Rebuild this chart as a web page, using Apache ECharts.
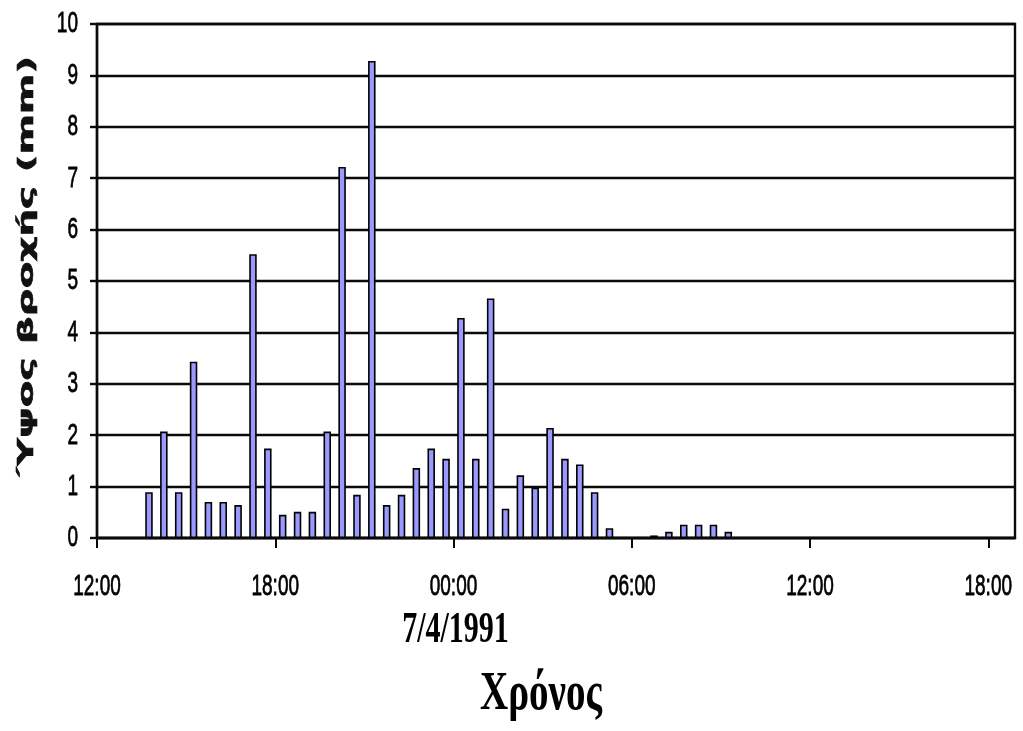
<!DOCTYPE html>
<html>
<head>
<meta charset="utf-8">
<title>Ύψος βροχής 6-7/4/1991</title>
<script src="https://cdn.jsdelivr.net/npm/echarts/dist/echarts.min.js"></script>
<style>
  html, body { margin: 0; padding: 0; background: #fff; }
  #chart { width: 1023px; height: 731px; }
</style>
</head>
<body>
<div id="chart"></div>
<script>
// Half-hourly rainfall depth, 6/4/1991 afternoon to 7/4/1991 morning
const times = [
  '13:45', '14:15', '14:45', '15:15', '15:45', '16:15', '16:45', '17:15', '17:45',
  '18:15', '18:45', '19:15', '19:45', '20:15', '20:45', '21:15', '21:45', '22:15',
  '22:45', '23:15', '23:45', '00:15', '00:45', '01:15', '01:45', '02:15', '02:45',
  '03:15', '03:45', '04:15', '04:45', '05:15', '06:45', '07:15', '07:45', '08:15',
  '08:45', '09:15'
];
const rain = [
  0.89, 2.07, 0.89, 3.43, 0.70, 0.70, 0.64, 5.52, 1.74,
  0.45, 0.51, 0.51, 2.07, 7.22, 0.84, 9.28, 0.64, 0.84,
  1.36, 1.74, 1.54, 4.28, 1.54, 4.66, 0.57, 1.22, 0.98,
  2.14, 1.54, 1.43, 0.89, 0.19, 0.05, 0.12, 0.26, 0.26,
  0.26, 0.12
];
// x axis runs in hours from 12:00 on 6/4
const xTickValues = [0, 6, 12, 18, 24, 30];
const xTickLabels = ['12:00', '18:00', '00:00', '06:00', '12:00', '18:00'];
const yTickLabels = ['0', '1', '2', '3', '4', '5', '6', '7', '8', '9', '10'];
const dateLabel = '7/4/1991';
const xTitle = 'Χρόνος';
const yTitle = 'Ύψος βροχής (mm)';

function hoursFromStart(t) {
  const [h, m] = t.split(':').map(Number);
  let v = h + m / 60 - 12;
  if (v < 0) v += 24;
  return v;
}

const seriesData = times.map((t, i) => [hoursFromStart(t), rain[i]]);

const chart = echarts.init(document.getElementById('chart'), null, { renderer: 'canvas' });

const ink = '#0a0a0a';

chart.setOption({
  animation: false,
  backgroundColor: '#ffffff',
  grid: {
    left: 97, right: 8, top: 24, bottom: 193,
    show: true, borderColor: ink, borderWidth: 2.4, backgroundColor: 'transparent'
  },
  xAxis: {
    type: 'value',
    min: 0, max: 30.9, interval: 6,
    axisLine: { show: true, onZero: false, lineStyle: { color: ink, width: 2.4 } },
    axisTick: { show: true, customValues: xTickValues, length: 10, lineStyle: { color: ink, width: 2 } },
    axisLabel: { show: false },
    splitLine: { show: false }
  },
  yAxis: {
    type: 'value',
    min: 0, max: 10, interval: 1,
    axisLine: { show: true, lineStyle: { color: ink, width: 2.4 } },
    axisTick: { show: true, length: 7, lineStyle: { color: ink, width: 2.4 } },
    axisLabel: { show: false },
    splitLine: { show: true, lineStyle: { color: ink, width: 2.4 } }
  },
  series: [{
    type: 'bar',
    data: seriesData,
    barWidth: 7.5,
    itemStyle: { color: '#9999FF', borderColor: '#000', borderWidth: 1.6 },
    z: 3
  }]
});

// Text drawn as scaled graphic text so the tall, narrow lettering fits the layout
const graphics = [];
const tickFont = '"Liberation Sans", Arial, sans-serif';

xTickValues.forEach((v, i) => {
  const px = chart.convertToPixel({ xAxisIndex: 0 }, v);
  graphics.push({
    type: 'text', x: px, y: 587, scaleY: 1.6, silent: true,
    style: { text: xTickLabels[i], fontFamily: tickFont, fontSize: 19, fill: '#000',
             stroke: '#000', lineWidth: 0.5, align: 'center', verticalAlign: 'middle' }
  });
});

yTickLabels.forEach((lab) => {
  const py = chart.convertToPixel({ yAxisIndex: 0 }, Number(lab));
  graphics.push({
    type: 'text', x: 78, y: py, scaleY: 1.6, silent: true,
    style: { text: lab, fontFamily: tickFont, fontSize: 19, fill: '#000',
             stroke: '#000', lineWidth: 0.5, align: 'right', verticalAlign: 'middle' }
  });
});

const midnight = chart.convertToPixel({ xAxisIndex: 0 }, 12);
graphics.push({
  type: 'text', x: midnight + 2, y: 630, scaleY: 1.5, silent: true,
  style: { text: dateLabel, fontFamily: '"Liberation Serif", "Times New Roman", serif',
           fontWeight: 'bold', fontSize: 30, fill: '#000', align: 'center', verticalAlign: 'middle' }
});

graphics.push({
  type: 'text', x: 541, y: 695, scaleY: 1.42, silent: true,
  style: { text: xTitle, fontFamily: '"Liberation Serif", "Times New Roman", serif',
           fontWeight: 'bold', fontSize: 39, fill: '#000', align: 'center', verticalAlign: 'middle' }
});

graphics.push({
  type: 'text', x: 28, y: 266, rotation: Math.PI / 2, scaleX: 1.85, silent: true,
  style: { text: yTitle, fontFamily: '"DejaVu Sans", Verdana, sans-serif',
           fontWeight: 'bold', fontSize: 21, fill: '#111', stroke: '#111', lineWidth: 0.6,
           align: 'center', verticalAlign: 'middle' }
});

chart.setOption({ graphic: graphics });
</script>
</body>
</html>
